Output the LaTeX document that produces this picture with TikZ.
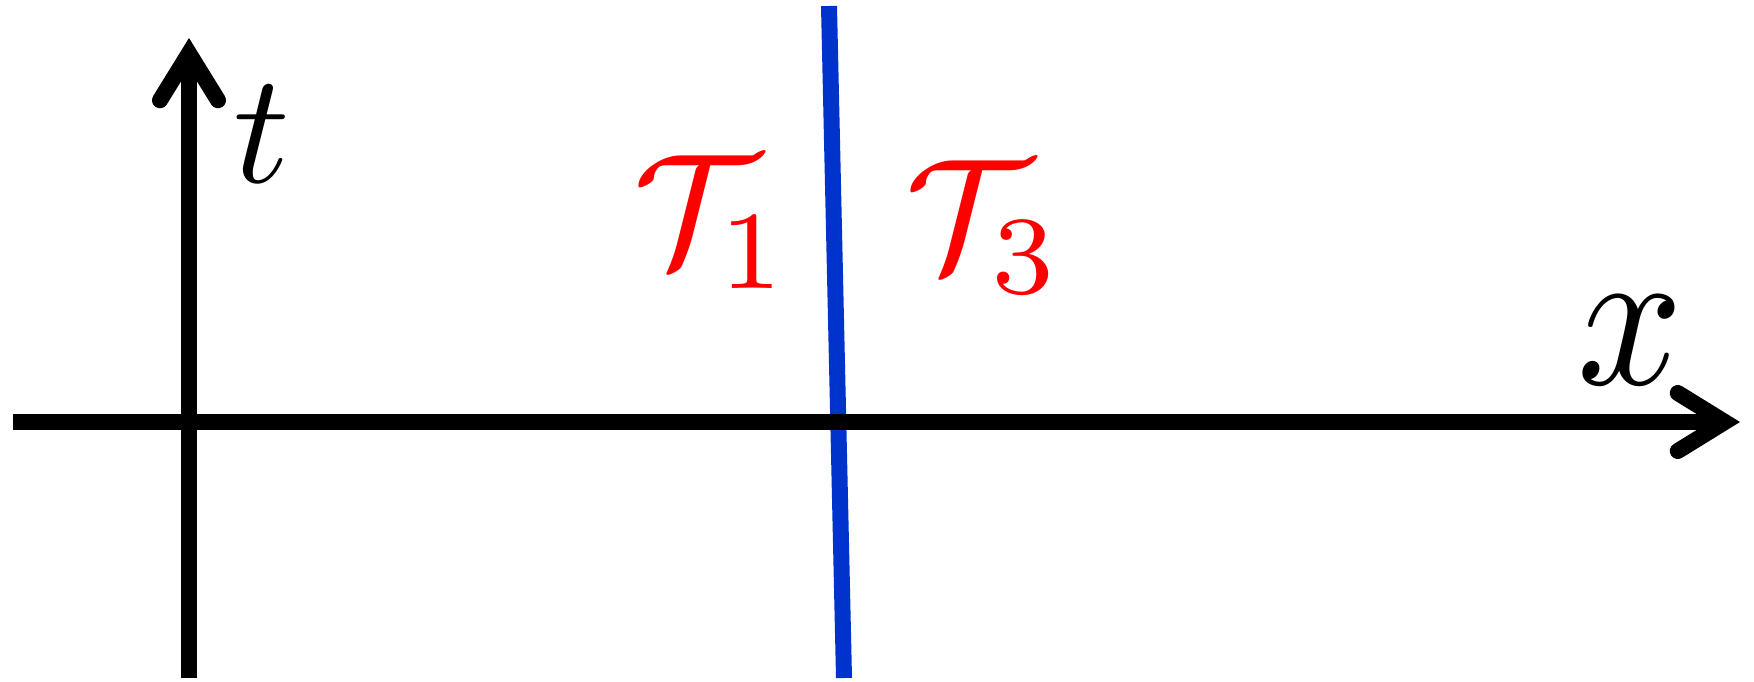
\documentclass[tikz,border=0pt]{standalone}
\usetikzlibrary{arrows.meta}
\definecolor{lineblue}{RGB}{0,51,204}
\begin{document}
\begin{tikzpicture}[x=1pt,y=-1pt,
  axis/.style={line width=16pt, -{Straight Barb[length=47pt,width=58pt,line cap=round,line join=miter]}},
  lab/.style={inner sep=0pt},
  tlab/.style={lab, text=red},
]
\useasboundingbox (0,0) rectangle (1754,681);
\coordinate (xs) at (13,422);
\coordinate (xe) at (1740,422);
\coordinate (ts) at (189,678);
\coordinate (te) at (189,38);
\coordinate (bt) at (829,6);
\coordinate (bb) at (844,678);
\draw[line width=16pt, color=lineblue] (bt) -- (bb);
\draw[axis] (xs) -- (xe);
\draw[axis] (ts) -- (te);
\node[lab, scale=15.7] (tl) at (262,134) {$t$};
\node[lab, xscale=18.5, yscale=20.5] (xl) at (1630,340) {$x$};
\node[tlab, scale=15.9] (T1) at (712,222) {$\mathcal{T}_1$};
\node[tlab, scale=15.9] (T3) at (984,227) {$\mathcal{T}_3$};
\end{tikzpicture}
\end{document}
